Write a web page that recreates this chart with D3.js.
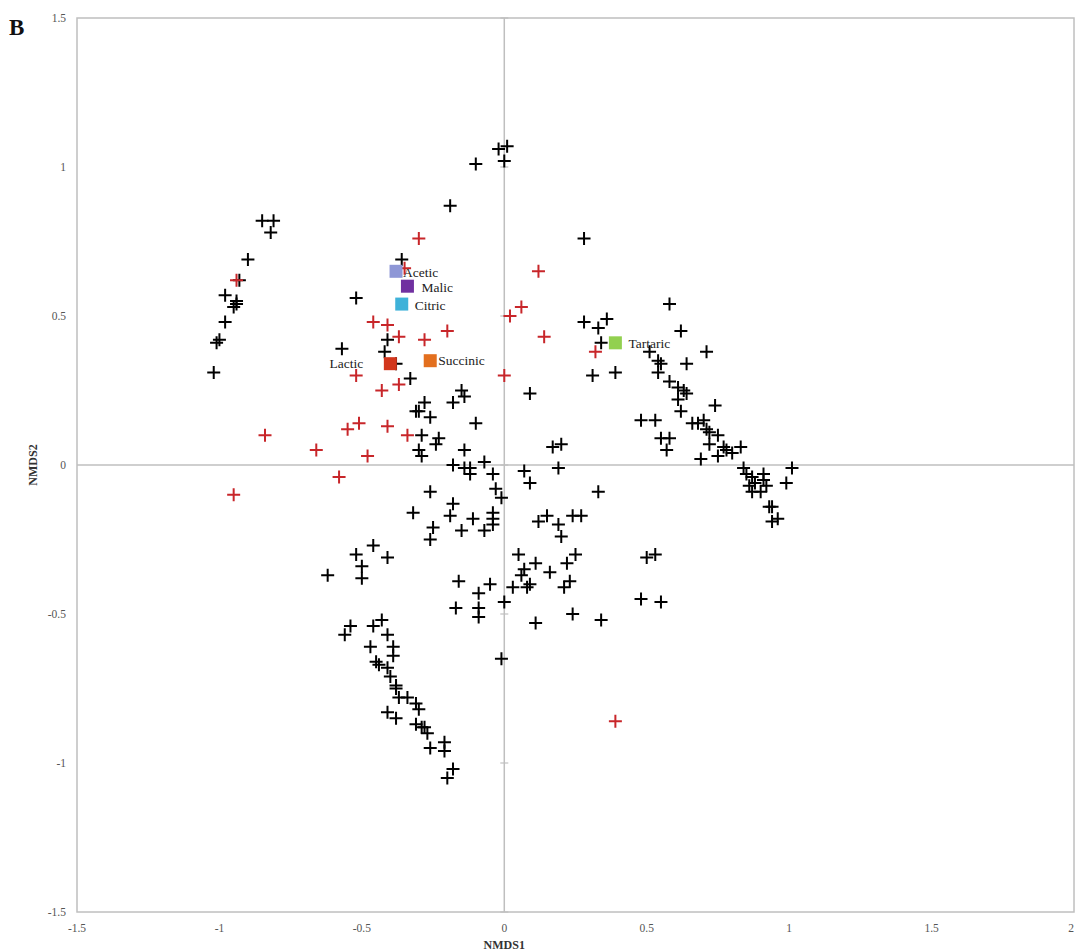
<!DOCTYPE html>
<html><head><meta charset="utf-8">
<script src="https://cdn.jsdelivr.net/npm/d3@7/dist/d3.min.js"></script>
<style>body{margin:0;background:#fff;}svg{display:block;}</style>
</head><body>
<script>
// ---- DATA ----
const xTicks = [-1.5, -1, -0.5, 0, 0.5, 1, 1.5, 2];
const yTicks = [-1.5, -1, -0.5, 0, 0.5, 1, 1.5];
const xTickLabels = ["-1.5","-1","-0.5","0","0.5","1","1.5","2"];
const yTickLabels = ["-1.5","-1","-0.5","0","0.5","1","1.5"];

const redSamples = [
  [-0.94,0.62],[-0.30,0.76],[-0.35,0.66],[-0.46,0.48],[-0.41,0.47],[-0.37,0.43],[-0.28,0.42],
  [-0.20,0.45],[-0.52,0.30],[-0.43,0.25],[-0.37,0.27],[-0.41,0.13],[-0.84,0.10],[-0.66,0.05],
  [-0.55,0.12],[-0.51,0.14],[-0.34,0.10],[-0.48,0.03],[-0.58,-0.04],[-0.95,-0.10],[0.12,0.65],
  [0.06,0.53],[0.02,0.50],[0.14,0.43],[0.32,0.38],[0.00,0.30],[0.39,-0.86]
];

const blackSamples = [
  // top
  [-0.02,1.06],[0.01,1.07],[0.00,1.02],[-0.10,1.01],[-0.19,0.87],[0.28,0.76],
  // upper-left arc
  [-0.85,0.82],[-0.81,0.82],[-0.82,0.78],[-0.90,0.69],[-0.93,0.62],[-0.98,0.57],[-0.94,0.54],
  [-0.95,0.53],[-0.94,0.55],[-0.98,0.48],[-1.00,0.42],[-1.01,0.41],[-1.02,0.31],
  // centre
  [-0.36,0.69],[-0.52,0.56],[-0.57,0.39],[-0.41,0.42],[-0.42,0.38],[-0.38,0.34],[-0.33,0.29],
  [-0.15,0.25],[-0.14,0.23],[-0.18,0.21],[-0.28,0.21],[-0.30,0.18],[-0.31,0.18],[-0.26,0.16],
  [-0.10,0.14],[-0.29,0.10],[-0.23,0.09],[-0.24,0.07],[-0.30,0.05],[-0.29,0.03],[-0.14,0.05],
  [-0.18,0.00],[-0.14,-0.01],[-0.12,-0.01],[-0.12,-0.03],[-0.07,0.01],[-0.04,-0.03],
  [0.07,-0.02],[0.09,-0.06],[0.17,0.06],[0.20,0.07],[0.19,-0.01],[0.09,0.24],
  [-0.26,-0.09],[-0.03,-0.08],[-0.01,-0.11],[0.33,-0.09],
  [-0.32,-0.16],[-0.18,-0.13],[-0.19,-0.17],[-0.11,-0.18],[-0.04,-0.16],[-0.04,-0.18],[-0.04,-0.20],
  [-0.25,-0.21],[-0.15,-0.22],[-0.07,-0.22],[-0.26,-0.25],
  [0.15,-0.17],[0.12,-0.19],[0.19,-0.20],[0.20,-0.24],[0.24,-0.17],[0.27,-0.17],
  [-0.46,-0.27],[-0.52,-0.30],[-0.41,-0.31],[-0.50,-0.34],[-0.62,-0.37],[-0.50,-0.38],
  [0.05,-0.30],[0.11,-0.33],[0.07,-0.35],[0.06,-0.37],[0.16,-0.36],[0.22,-0.33],[0.25,-0.30],
  [-0.16,-0.39],[-0.05,-0.40],[-0.09,-0.43],[0.03,-0.41],[0.08,-0.41],[0.09,-0.40],[0.21,-0.41],[0.23,-0.39],
  [-0.17,-0.48],[-0.09,-0.48],[-0.09,-0.51],[0.00,-0.46],[0.24,-0.50],[0.11,-0.53],[0.34,-0.52],
  [0.48,-0.45],[0.55,-0.46],[0.50,-0.31],[0.53,-0.30],[-0.01,-0.65],
  // lower arc
  [-0.54,-0.54],[-0.56,-0.57],[-0.43,-0.52],[-0.46,-0.54],[-0.41,-0.57],[-0.39,-0.61],[-0.39,-0.64],
  [-0.47,-0.61],[-0.45,-0.66],[-0.44,-0.67],[-0.41,-0.68],[-0.40,-0.71],[-0.38,-0.74],[-0.38,-0.75],
  [-0.37,-0.78],[-0.34,-0.78],[-0.31,-0.80],[-0.30,-0.82],[-0.41,-0.83],[-0.38,-0.85],[-0.31,-0.87],
  [-0.29,-0.88],[-0.28,-0.88],[-0.27,-0.90],[-0.26,-0.95],[-0.21,-0.93],[-0.21,-0.96],[-0.18,-1.02],[-0.20,-1.05],
  // right cluster
  [0.58,0.54],[0.28,0.48],[0.33,0.46],[0.36,0.49],[0.62,0.45],[0.34,0.41],[0.51,0.38],[0.54,0.35],
  [0.55,0.34],[0.54,0.31],[0.71,0.38],[0.64,0.34],[0.31,0.30],[0.39,0.31],[0.58,0.28],[0.61,0.26],
  [0.63,0.25],[0.64,0.24],[0.61,0.22],[0.62,0.18],[0.74,0.20],[0.48,0.15],[0.53,0.15],[0.66,0.14],
  [0.68,0.14],[0.70,0.15],[0.71,0.12],[0.72,0.11],[0.75,0.10],[0.55,0.09],[0.58,0.09],[0.57,0.05],
  [0.72,0.07],[0.77,0.06],[0.78,0.05],[0.80,0.04],[0.83,0.06],[0.75,0.03],[0.69,0.02],[0.84,-0.01],
  [0.85,-0.03],[0.87,-0.04],[0.91,-0.03],[0.91,-0.05],[0.92,-0.07],[0.88,-0.06],[0.86,-0.07],
  [0.87,-0.09],[0.90,-0.09],[1.01,-0.01],[0.99,-0.06],[0.93,-0.14],[0.94,-0.14],[0.96,-0.18],[0.94,-0.19]
];

const acidNames = ["Acetic","Malic","Citric","Lactic","Succinic","Tartaric"];
const acidX = [-0.38,-0.34,-0.36,-0.40,-0.26,0.39];
const acidY = [0.65,0.60,0.54,0.34,0.35,0.41];
const acidColors = ["#8e97d6","#7030a0","#3fb2d9","#d2361c","#e36f1e","#92d050"];

// ---- LAYOUT ----
const W = 1075, H = 952;
const L = 77, R = 1074, T = 18, B = 912;
const svg = d3.select("body").append("svg").attr("width", W).attr("height", H);
const x = d3.scaleLinear().domain([-1.5, 2]).range([L, R]);
const y = d3.scaleLinear().domain([-1.5, 1.5]).range([B, T]);
const gray = "#bfbfbf";
const serif = "'Liberation Serif','Times New Roman',serif";

// plot border
svg.append("rect").attr("x", L).attr("y", T).attr("width", R - L).attr("height", B - T)
  .attr("fill", "none").attr("stroke", gray).attr("stroke-width", 1.5);

// zero lines
svg.append("line").attr("x1", x(0)).attr("x2", x(0)).attr("y1", T).attr("y2", B)
  .attr("stroke", gray).attr("stroke-width", 1.5);
svg.append("line").attr("x1", L).attr("x2", R).attr("y1", y(0)).attr("y2", y(0))
  .attr("stroke", gray).attr("stroke-width", 1.5);

// small tick marks on the vertical zero line
svg.append("g").selectAll("line").data(yTicks).join("line")
  .attr("x1", x(0) - 4).attr("x2", x(0) + 4).attr("y1", d => y(d)).attr("y2", d => y(d))
  .attr("stroke", gray).attr("stroke-width", 1.2);

// tick labels
svg.append("g").selectAll("text").data(xTicks).join("text")
  .attr("x", (d, i) => i === xTicks.length - 1 ? W - 1 : x(d)).attr("y", B + 20)
  .attr("text-anchor", (d, i) => i === xTicks.length - 1 ? "end" : "middle")
  .attr("font-family", serif).attr("font-size", 11.5).attr("fill", "#555")
  .text((d, i) => xTickLabels[i]);
svg.append("g").selectAll("text").data(yTicks).join("text")
  .attr("x", L - 11).attr("y", d => y(d) + 4).attr("text-anchor", "end")
  .attr("font-family", serif).attr("font-size", 11.5).attr("fill", "#555")
  .text((d, i) => yTickLabels[i]);

// axis titles
svg.append("text").attr("x", x(0)).attr("y", B + 37).attr("text-anchor", "middle")
  .attr("font-family", serif).attr("font-size", 12).attr("font-weight", "bold").attr("fill", "#333")
  .text("NMDS1");
svg.append("text").attr("transform", `translate(37,${y(0)}) rotate(-90)`).attr("text-anchor", "middle")
  .attr("font-family", serif).attr("font-size", 12).attr("font-weight", "bold").attr("fill", "#333")
  .text("NMDS2");

// panel letter
svg.append("text").attr("x", 9).attr("y", 35).attr("font-family", serif).attr("font-size", 23)
  .attr("font-weight", "bold").attr("fill", "#111").text("B");

// cross markers
function crosses(data, color) {
  const s = 6.5;
  const g = svg.append("g").attr("stroke", color).attr("stroke-width", 2);
  g.selectAll("path").data(data).join("path")
    .attr("d", d => {
      const cx = x(d[0]), cy = y(d[1]);
      return `M${cx - s},${cy}H${cx + s}M${cx},${cy - s}V${cy + s}`;
    });
}
crosses(blackSamples, "#000");
crosses(redSamples, "#c8262a");

// acid squares
const acids = acidNames.map((n, i) => ({ name: n, x: acidX[i], y: acidY[i], color: acidColors[i] }));
const sq = 13;
svg.append("g").selectAll("rect").data(acids).join("rect")
  .attr("x", d => x(d.x) - sq / 2).attr("y", d => y(d.y) - sq / 2)
  .attr("width", sq).attr("height", sq).attr("fill", d => d.color);

const labelOffset = {
  Acetic: [7, 6, "start"], Malic: [14, 6, "start"], Citric: [13, 6, "start"],
  Lactic: [-27, 4, "end"], Succinic: [8, 4, "start"], Tartaric: [13, 5, "start"]
};
svg.append("g").selectAll("text").data(acids).join("text")
  .attr("x", d => x(d.x) + labelOffset[d.name][0])
  .attr("y", d => y(d.y) + labelOffset[d.name][1])
  .attr("text-anchor", d => labelOffset[d.name][2])
  .attr("font-family", serif).attr("font-size", 13.5).attr("fill", "#222")
  .text(d => d.name);
</script>
</body></html>
